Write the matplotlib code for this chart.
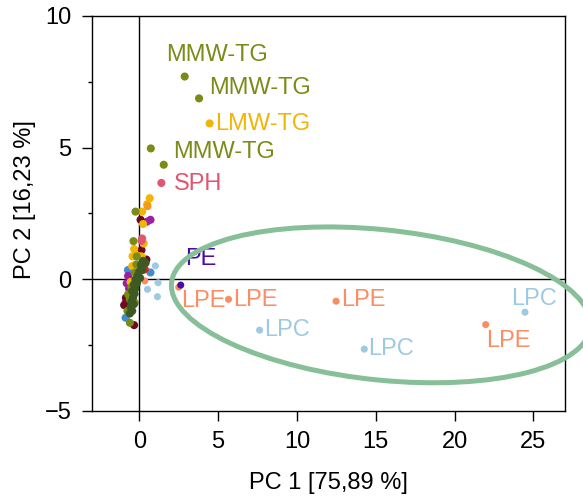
import matplotlib
matplotlib.use("Agg")
import matplotlib.pyplot as plt
from matplotlib.patches import Ellipse
from matplotlib.ticker import MultipleLocator

plt.rcParams['font.family'] = ['Liberation Sans', 'DejaVu Sans']

# ---------------- data ----------------
olive_x = [2.88, 3.79, 0.73, 1.55, -0.24, -0.37, -0.16, -0.18, -0.28, -0.71, -0.60, -0.28, -0.60, -0.75, -0.50]
olive_y = [7.70, 6.87, 4.97, 4.35, 2.57, 1.45, 0.87, 0.57, 0.26, -0.57, -0.76, -0.89, -1.65, -1.20, -0.30]

yellow_x = [4.46, 0.66, 0.50, 0.18, 0.24, 0.28, -0.33, -0.43, 0.14, -0.08, -0.45, -0.55, -0.45]
yellow_y = [5.92, 3.08, 2.85, 2.57, 2.10, 1.36, 1.15, 0.87, 0.87, 0.89, 0.50, -0.10, -0.50]

orange_x = [0.52]
orange_y = [2.78]

darkred_x = [0.08, 0.14, 0.45, -0.96, -0.33, -0.85]
darkred_y = [2.26, 1.11, 0.75, -0.98, -1.74, -0.70]

purple_x = [0.71, 0.49, -0.71, -0.85, -0.65, -0.80]
purple_y = [2.26, 2.19, 0.13, -0.85, -0.35, -0.15]

blue_x = [0.71, -0.87, -0.72]
blue_y = [0.26, -1.46, 0.35]

pink_x = [1.40, 0.18, 0.14]
pink_y = [3.66, 1.55, 1.46]

red_x = [0.35]
red_y = [0.38]

lpe_x = [2.50, 5.66, 12.48, 21.97, 0.35]
lpe_y = [-0.30, -0.76, -0.83, -1.72, -0.06]

lpc_x = [7.63, 14.27, 24.46, 1.02, 1.19, 0.52, 1.15]
lpc_y = [-1.93, -2.65, -1.25, 0.51, -0.13, -0.38, -0.66]

pe_x = [2.63]
pe_y = [-0.22]

dkgreen_x = [0.40, 0.25, 0.10, 0.20, 0.00, -0.10, 0.05, -0.25, -0.15, -0.35, -0.25, -0.45,
             -0.30, -0.40, -0.50, -0.35, -0.55, -0.45, -0.60]
dkgreen_y = [0.62, 0.70, 0.55, 0.35, 0.30, 0.15, 0.05, 0.00, -0.15, -0.20, -0.35, -0.45,
             -0.55, -0.70, -0.85, -0.95, -1.05, -1.20, -1.30]

# labels: text, x, y
label_text = ["MMW-TG", "MMW-TG", "LMW-TG", "MMW-TG", "SPH", "PE",
              "LPE", "LPE", "LPE", "LPC", "LPC", "LPE", "LPC"]
label_x = [1.72, 4.46, 4.78, 2.14, 2.18, 2.88, 2.67, 5.94, 12.80, 7.90, 14.54, 21.97, 23.56]
label_y = [8.51, 7.25, 5.88, 4.85, 3.63, 0.76, -0.83, -0.80, -0.80, -1.91, -2.63, -2.35, -0.73]

# ellipse (data units)
ell_center = (15.33, -0.97)
ell_width = 26.63
ell_height = 5.72
ell_angle = -3.35

xlim = (-3, 27)
ylim = (-5, 10)
xticks = [0, 5, 10, 15, 20, 25]
yticks = [-5, 0, 5, 10]

# ---------------- style ----------------
C_OLIVE = "#7a8b17"
C_YELLOW = "#f1b505"
C_ORANGE = "#f39a1a"
C_DARKRED = "#6d0a1e"
C_PURPLE = "#9c1fa4"
C_BLUE = "#3f8fcf"
C_PINK = "#e0566f"
C_RED = "#e0262c"
C_LPE = "#fc8d62"
C_LPC = "#9ecae1"
C_PE = "#4b0aa3"
C_DKGREEN = "#3e5a22"
C_ELL = "#86bf98"

label_color = {"MMW-TG": C_OLIVE, "LMW-TG": C_YELLOW, "SPH": C_PINK, "PE": C_PE,
               "LPE": C_LPE, "LPC": C_LPC}

fig = plt.figure(figsize=(5.83, 4.99), dpi=100)
ax = fig.add_axes([0.1578, 0.1764, 0.8113, 0.7916])

ax.axhline(0, color="black", lw=1.0, zorder=1)
ax.axvline(0, color="black", lw=1.0, zorder=1)

S_BIG = 34
S_SM = 26
series = [
    (lpc_x, lpc_y, C_LPC, S_SM),
    (lpe_x, lpe_y, C_LPE, S_SM),
    (blue_x, blue_y, C_BLUE, S_BIG),
    (purple_x, purple_y, C_PURPLE, S_BIG),
    (darkred_x, darkred_y, C_DARKRED, S_BIG),
    (yellow_x, yellow_y, C_YELLOW, S_BIG),
    (orange_x, orange_y, C_ORANGE, S_BIG),
    (pink_x, pink_y, C_PINK, S_BIG),
    (red_x, red_y, C_RED, S_BIG),
    (olive_x, olive_y, C_OLIVE, S_BIG),
    (pe_x, pe_y, C_PE, S_SM),
    (dkgreen_x, dkgreen_y, C_DKGREEN, S_BIG),
]
for xs, ys, c, s in series:
    ax.scatter(xs, ys, s=s, color=c, edgecolors="none", zorder=3)

for t, x, y in zip(label_text, label_x, label_y):
    ax.text(x, y, t, color=label_color[t], fontsize=17, ha="left", va="center", zorder=3)

ell = Ellipse(ell_center, ell_width, ell_height, angle=ell_angle, fill=False,
              edgecolor=C_ELL, lw=3.6, zorder=5, clip_on=False)
ax.add_patch(ell)

ax.set_xlim(*xlim)
ax.set_ylim(*ylim)
ax.set_xticks(xticks)
ax.set_yticks(yticks)
ax.yaxis.set_minor_locator(MultipleLocator(2.5))
ax.tick_params(which="major", length=7.2, width=1.0, labelsize=17, pad=7.5, direction="out")
ax.tick_params(which="minor", length=3.2, width=1.0, direction="out")
for sp in ax.spines.values():
    sp.set_linewidth(1.0)

ax.set_xlabel("PC 1 [75,89 %]", fontsize=17, va="center")
ax.set_ylabel("PC 2 [16,23 %]", fontsize=17, va="center")
ax.xaxis.set_label_coords(0.50, -0.182)
ax.yaxis.set_label_coords(-0.142, 0.534)

fig.savefig("out.png", dpi=100)
